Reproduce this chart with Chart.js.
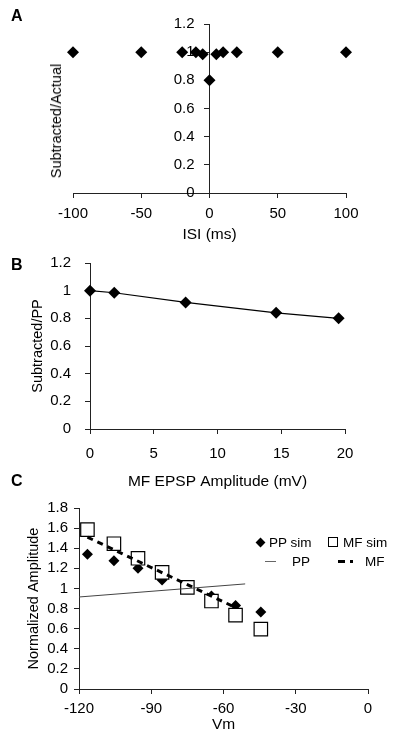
<!DOCTYPE html>
<html><head><meta charset="utf-8">
<script src="https://cdn.jsdelivr.net/npm/chart.js@4.4.0/dist/chart.umd.min.js"></script>
<style>
html,body{margin:0;padding:0;background:#fff;}
body{width:400px;height:740px;position:relative;overflow:hidden;font-family:"Liberation Sans",Arial,sans-serif;color:#000;}
canvas{position:absolute;left:0;}
.lbl{position:absolute;font-weight:bold;font-size:16px;line-height:16px;}
.ytitle{position:absolute;font-size:14.5px;line-height:16px;color:#000;white-space:nowrap;transform:translate(-50%,-50%) rotate(-90deg);}
.leg{position:absolute;font-size:13.5px;line-height:14px;white-space:nowrap;}
</style></head>
<body>
<canvas id="cA" width="400" height="245" style="top:0"></canvas>
<canvas id="cB" width="400" height="255" style="top:240px"></canvas>
<canvas id="cC" width="400" height="250" style="top:490px"></canvas>
<div class="lbl" style="left:11px;top:8px">A</div>
<div class="lbl" style="left:11px;top:257px">B</div>
<div class="lbl" style="left:11px;top:473px">C</div>
<div class="ytitle" style="left:56px;top:121px">Subtracted/Actual</div>
<div class="leg" style="left:257px;top:536px"><span style="display:inline-block;width:7px;height:7px;background:#000;transform:rotate(45deg);margin-right:5px;vertical-align:1px"></span>PP sim</div>
<div class="leg" style="left:328px;top:536px"><span style="display:inline-block;width:8px;height:8px;border:1px solid #000;background:#fff;margin-right:5px;vertical-align:0px"></span>MF sim</div>
<div class="leg" style="left:265px;top:555px"><span style="display:inline-block;width:11px;height:1px;background:#666;margin-right:16px;vertical-align:4px"></span>PP</div>
<div class="leg" style="left:338px;top:555px"><span style="display:inline-block;width:7px;height:3px;background:#000;margin-right:5px;vertical-align:3px"></span><span style="display:inline-block;width:3px;height:3px;background:#000;margin-right:12px;vertical-align:3px"></span>MF</div>
<script>
// Panel A
const isiA = [-100, -50, -20, -10, -5, 0, 5, 10, 20, 50, 100];
const ratioA = [1.0, 1.0, 1.0, 1.0, 0.985, 0.8, 0.985, 1.0, 1.0, 1.0, 1.0];
// Panel B
const ampB = [0, 1.9, 7.5, 14.6, 19.5];
const ratioB = [1.0, 0.985, 0.915, 0.84, 0.80];
// Panel C
const vmC = [-116.5, -105.5, -95.5, -85.5, -75, -65, -55, -44.5];
const ppSim = [1.34, 1.275, 1.2, 1.085, 1.01, 0.925, 0.83, 0.765];
const mfSim = [1.585, 1.445, 1.3, 1.16, 1.01, 0.875, 0.735, 0.595];
const ppFitX = [-120, -51];
const ppFitY = [0.915, 1.045];
const mfFitX = [-116.5, -55];
const mfFitY = [1.51, 0.81];

const pts = (xs, ys) => xs.map((x, i) => ({x: x, y: ys[i]}));
const FAM = '"Liberation Sans", Arial, sans-serif';
const TICK = {family: FAM, size: 15};
const XT = {family: FAM, size: 15.5};
const YT = {family: FAM, size: 14.5};
const AX = '#222';
const fmt = v => String(Math.round(v * 10) / 10);
function axis(extra) {
  return Object.assign({
    type: 'linear',
    grid: {drawOnChartArea: false, drawTicks: true, tickLength: 5, color: AX},
    border: {display: true, color: AX, width: 1}
  }, extra);
}
function tk(step, pad, cb) {
  return {color: '#000', font: TICK, stepSize: step, padding: pad, autoSkip: false, maxRotation: 0, callback: cb || fmt};
}
const base = {
  responsive: false, animation: false, devicePixelRatio: 1,
  plugins: {legend: {display: false}, tooltip: {enabled: false}}
};

new Chart(document.getElementById('cA'), {
  type: 'scatter',
  data: {datasets: [{data: pts(isiA, ratioA), pointStyle: 'rectRot', pointRadius: 6, clip: false,
    backgroundColor: '#000', borderColor: '#000', borderWidth: 0}]},
  options: Object.assign({}, base, {
    layout: {padding: {left: 73, right: 54, top: 24, bottom: 0}},
    scales: {
      x: axis({min: -100, max: 100, ticks: tk(50, 7),
        title: {display: true, text: 'ISI (ms)', color: '#000', font: XT, padding: {top: 0, bottom: 1}},
        afterFit: s => { s.height = 52; }}),
      y: axis({min: 0, max: 1.2, position: {x: 0},
        ticks: tk(0.2, 0, v => fmt(v) + '\u2002\u2002')})
    }
  })
});

new Chart(document.getElementById('cB'), {
  type: 'scatter',
  data: {datasets: [{data: pts(ampB, ratioB), showLine: true, pointStyle: 'rectRot', pointRadius: 6, clip: false,
    backgroundColor: '#000', borderColor: '#000', borderWidth: 1.2, pointBorderWidth: 0}]},
  options: Object.assign({}, base, {
    layout: {padding: {left: 0, right: 55, top: 18, bottom: 0}},
    scales: {
      x: axis({min: 0, max: 20, ticks: tk(5, 11),
        title: {display: true, text: 'MF EPSP Amplitude (mV)', color: '#000', font: XT, padding: {top: 0, bottom: 4}},
        afterFit: s => { s.height = 66; }}),
      y: axis({min: 0, max: 1.2, ticks: tk(0.2, 14),
        title: {display: true, text: 'Subtracted/PP', color: '#000', font: YT, padding: {top: 29, bottom: 0}},
        afterFit: s => { s.width = 90; }})
    }
  })
});

new Chart(document.getElementById('cC'), {
  type: 'scatter',
  data: {datasets: [
    {data: pts(ppFitX, ppFitY), showLine: true, pointRadius: 0, borderColor: '#444', borderWidth: 1, order: 0, clip: false},
    {data: pts(mfFitX, mfFitY), showLine: true, pointRadius: 0, borderColor: '#000', borderWidth: 3, borderDash: [6, 5], order: 1, clip: false},
    {data: pts(vmC, ppSim), pointStyle: 'rectRot', pointRadius: 5.5, backgroundColor: '#000', borderColor: '#000', borderWidth: 0, order: 3, clip: false},
    {data: pts(vmC, mfSim), pointStyle: 'rect', pointRadius: 9.5, backgroundColor: '#fff', borderColor: '#000', borderWidth: 1.2, order: 2, clip: false}
  ]},
  options: Object.assign({}, base, {
    layout: {padding: {left: 0, right: 32, top: 18, bottom: 0}},
    scales: {
      x: axis({min: -120, max: 0, ticks: tk(30, 6),
        title: {display: true, text: 'Vm', color: '#000', font: XT, padding: {top: 0, bottom: 6}},
        afterFit: s => { s.height = 51; }}),
      y: axis({min: 0, max: 1.8, ticks: tk(0.2, 6),
        title: {display: true, text: 'Normalized Amplitude', color: '#000', font: YT, padding: {top: 25, bottom: 0}},
        afterFit: s => { s.width = 79; }})
    }
  })
});
</script>
</body></html>
